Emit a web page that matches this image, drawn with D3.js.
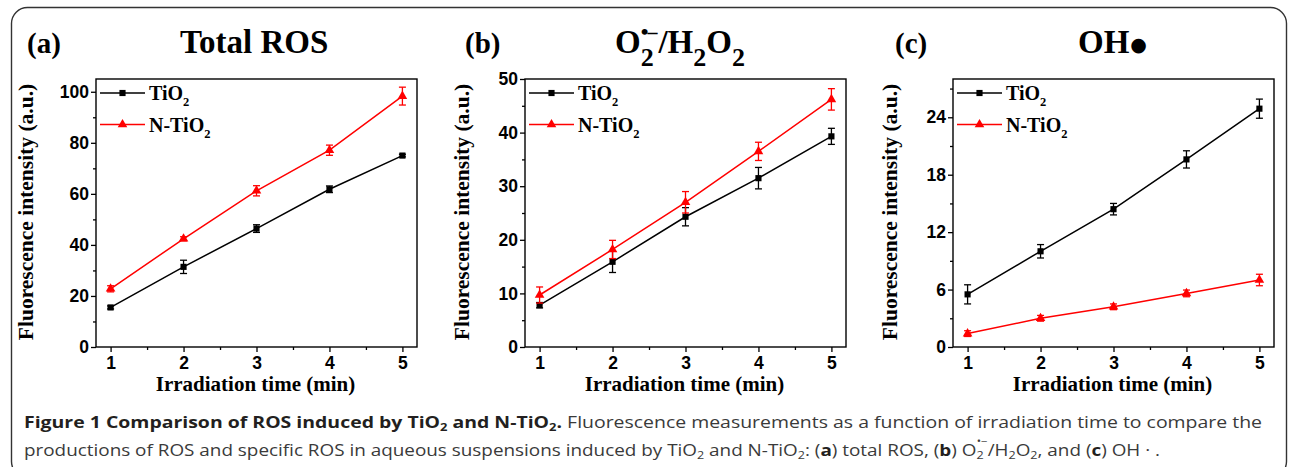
<!DOCTYPE html>
<html>
<head>
<meta charset="utf-8">
<script src="https://cdn.jsdelivr.net/npm/d3@7"></script>
<style>
  body { margin: 0; background: #fff; }
  svg { display: block; }
</style>
</head>
<body>
<svg id="chart" width="1290" height="467"></svg>
<script>
// irradiation time (min)
const times = [1, 2, 3, 4, 5];
const xTicks = [1, 2, 3, 4, 5];
const xMinorTicks = [1.5, 2.5, 3.5, 4.5];

// (a) total ROS
const rosTiO2 = [15.5, 31.4, 46.4, 61.8, 75.0];
const rosTiO2Err = [0.6, 2.6, 1.5, 1.3, 0.5];
const rosNTiO2 = [22.8, 42.4, 61.2, 77.1, 98.3];
const rosNTiO2Err = [1.2, 0.8, 2.0, 2.0, 3.5];
const rosTicks = [0, 20, 40, 60, 80, 100];
const rosMinorTicks = [10, 30, 50, 70, 90];

// (b) superoxide / H2O2
const o2TiO2 = [7.8, 15.9, 24.3, 31.5, 39.3];
const o2TiO2Err = [0.5, 2.0, 1.7, 2.0, 1.5];
const o2NTiO2 = [9.7, 18.2, 27.0, 36.5, 46.2];
const o2NTiO2Err = [1.5, 1.7, 2.0, 1.7, 2.0];
const o2Ticks = [0, 10, 20, 30, 40, 50];
const o2MinorTicks = [5, 15, 25, 35, 45];

// (c) hydroxyl radical
const ohTiO2 = [5.5, 10.0, 14.4, 19.6, 24.9];
const ohTiO2Err = [1.0, 0.7, 0.6, 0.9, 1.0];
const ohNTiO2 = [1.4, 3.0, 4.2, 5.6, 7.0];
const ohNTiO2Err = [0.3, 0.3, 0.3, 0.35, 0.6];
const ohTicks = [0, 6, 12, 18, 24];
const ohMinorTicks = [3, 9, 15, 21, 27];

const seriesNames = ["TiO", "N-TiO"];
const seriesColors = ["#000000", "#ff0000"];

const serif = "'Liberation Serif', 'Times New Roman', serif";
const sans = "'Liberation Sans', Arial, sans-serif";

const svg = d3.select("#chart");

// outer rounded frame
svg.append("rect")
    .attr("x", 11.5).attr("y", 7.5)
    .attr("width", 1275).attr("height", 470)
    .attr("rx", 16)
    .attr("fill", "none")
    .attr("stroke", "#333")
    .attr("stroke-width", 1.4);

function toRows(values, errors) {
    return times.map((t, i) => ({ t: t, v: values[i], e: errors[i] }));
}

function drawPanel(p) {
    const left = p.left, right = p.left + 321, top = 79, bottom = 347;
    const g = svg.append("g");

    const x = d3.scaleLinear().domain([0.8, 5.2]).range([left, right]);
    const y = d3.scaleLinear().domain([0, p.yMax]).range([bottom, top]);

    // axes (ticks outward, Origin style)
    g.append("g")
        .attr("transform", `translate(${left},0)`)
        .call(d3.axisLeft(y).tickValues(p.ticks).tickSize(5).tickSizeOuter(0).tickPadding(2));
    g.append("g")
        .attr("transform", `translate(${left},0)`)
        .call(d3.axisLeft(y).tickValues(p.minor).tickSize(3).tickSizeOuter(0).tickFormat(""));
    g.append("g")
        .attr("transform", `translate(0,${bottom})`)
        .call(d3.axisBottom(x).tickValues(xTicks).tickFormat(d3.format("d"))
            .tickSize(5).tickSizeOuter(0).tickPadding(5));
    g.append("g")
        .attr("transform", `translate(0,${bottom})`)
        .call(d3.axisBottom(x).tickValues(xMinorTicks).tickSize(3).tickSizeOuter(0).tickFormat(""));

    g.selectAll(".domain").remove();
    g.selectAll(".tick line").attr("stroke", "#000").attr("stroke-width", 1.3);
    g.selectAll(".tick text")
        .attr("fill", "#000")
        .style("font-family", sans)
        .style("font-weight", "bold")
        .style("font-size", "17.5px");

    // plot frame
    g.append("rect")
        .attr("x", left).attr("y", top)
        .attr("width", right - left).attr("height", bottom - top)
        .attr("fill", "none")
        .attr("stroke", "#000")
        .attr("stroke-width", 1.4);

    // series
    const line = d3.line().x(d => x(d.t)).y(d => y(d.v));
    p.series.forEach((s, k) => {
        const color = seriesColors[k];
        const sg = g.append("g");
        sg.append("path")
            .datum(s)
            .attr("fill", "none")
            .attr("stroke", color)
            .attr("stroke-width", 1.5)
            .attr("d", line);

        const eb = sg.selectAll(".err").data(s).enter().append("g");
        eb.append("line")
            .attr("x1", d => x(d.t)).attr("x2", d => x(d.t))
            .attr("y1", d => y(d.v - d.e)).attr("y2", d => y(d.v + d.e))
            .attr("stroke", color).attr("stroke-width", 1.3);
        [-1, 1].forEach(sign => {
            eb.append("line")
                .attr("x1", d => x(d.t) - 3.5).attr("x2", d => x(d.t) + 3.5)
                .attr("y1", d => y(d.v + sign * d.e)).attr("y2", d => y(d.v + sign * d.e))
                .attr("stroke", color).attr("stroke-width", 1.3);
        });

        const sym = k === 0 ? d3.symbol(d3.symbolSquare, 38) : d3.symbol(d3.symbolTriangle, 40);
        sg.selectAll(".mk").data(s).enter().append("path")
            .attr("transform", d => `translate(${x(d.t)},${y(d.v)})`)
            .attr("d", sym)
            .attr("fill", color);
    });

    // legend
    seriesNames.forEach((name, k) => {
        const ly = top + 14 + k * 31.5;
        const color = seriesColors[k];
        g.append("line")
            .attr("x1", left + 4).attr("x2", left + 49)
            .attr("y1", ly).attr("y2", ly)
            .attr("stroke", color).attr("stroke-width", 1.5);
        const sym = k === 0 ? d3.symbol(d3.symbolSquare, 38) : d3.symbol(d3.symbolTriangle, 40);
        g.append("path")
            .attr("transform", `translate(${left + 26.5},${ly})`)
            .attr("d", sym)
            .attr("fill", color);
        const t = g.append("text")
            .attr("x", left + 53).attr("y", ly + 7)
            .style("font-family", serif)
            .style("font-weight", "bold")
            .style("font-size", "20px");
        t.append("tspan").text(name);
        t.append("tspan").attr("dy", 6).style("font-size", "12.5px").text("2");
    });

    // axis titles
    g.append("text")
        .attr("transform", `translate(${left - p.titleOffset},${(top + bottom) / 2 - 1}) rotate(-90)`)
        .attr("text-anchor", "middle")
        .style("font-family", serif)
        .style("font-weight", "bold")
        .style("font-size", "21.5px")
        .text("Fluorescence intensity (a.u.)");
    g.append("text")
        .attr("x", (left + right) / 2 - 1).attr("y", 390.5)
        .attr("text-anchor", "middle")
        .style("font-family", serif)
        .style("font-weight", "bold")
        .style("font-size", "21px")
        .text("Irradiation time (min)");

    // panel letter
    g.append("text")
        .attr("x", p.labelX).attr("y", 53)
        .style("font-family", serif)
        .style("font-weight", "bold")
        .style("font-size", "29px")
        .text(p.label);

    // panel title
    const title = g.append("text")
        .attr("x", p.titleX).attr("y", 53)
        .style("font-family", serif)
        .style("font-weight", "bold")
        .style("font-size", "33px");
    p.title(title);
}

drawPanel({
    left: 96, yMax: 105, ticks: rosTicks, minor: rosMinorTicks, titleOffset: 63,
    series: [toRows(rosTiO2, rosTiO2Err), toRows(rosNTiO2, rosNTiO2Err)],
    label: "(a)", labelX: 27, titleX: 180,
    title: t => t.text("Total ROS")
});

drawPanel({
    left: 525, yMax: 50, ticks: o2Ticks, minor: o2MinorTicks, titleOffset: 56,
    series: [toRows(o2TiO2, o2TiO2Err), toRows(o2NTiO2, o2NTiO2Err)],
    label: "(b)", labelX: 465, titleX: 615,
    title: t => {
        t.append("tspan").text("O");
        t.append("tspan").attr("dy", 13).style("font-size", "26px").text("2");
        t.append("tspan").attr("dx", -13).attr("dy", -27).style("font-size", "22px").text("•");
        t.append("tspan").attr("dx", -1).attr("dy", 0).style("font-size", "20px").text("–");
        t.append("tspan").attr("dx", 1).attr("dy", 14).text("/H");
        t.append("tspan").attr("dy", 13).style("font-size", "26px").text("2");
        t.append("tspan").attr("dy", -13).text("O");
        t.append("tspan").attr("dy", 13).style("font-size", "26px").text("2");
    }
});

drawPanel({
    left: 953, yMax: 28, ticks: ohTicks, minor: ohMinorTicks, titleOffset: 56,
    series: [toRows(ohTiO2, ohTiO2Err), toRows(ohNTiO2, ohNTiO2Err)],
    label: "(c)", labelX: 895, titleX: 1078,
    title: t => {
        t.append("tspan").text("OH");
        t.append("tspan").attr("dx", 1).attr("dy", -2).style("font-size", "19px").style("font-family", "DejaVu Sans").text("●");
    }
});

// caption
const capFont = "'Open Sans', 'Noto Sans', sans-serif";
const cap1 = svg.append("text")
    .attr("x", 24).attr("y", 428)
    .attr("textLength", 1238).attr("lengthAdjust", "spacingAndGlyphs")
    .style("font-family", capFont)
    .style("font-size", "16.5px");
const b1 = cap1.append("tspan").attr("fill", "#231f20").style("font-weight", "bold");
b1.append("tspan").text("Figure 1 Comparison of ROS induced by TiO");
b1.append("tspan").attr("dy", 3).style("font-size", "11px").text("2");
b1.append("tspan").attr("dy", -3).text(" and N-TiO");
b1.append("tspan").attr("dy", 3).style("font-size", "11px").text("2");
b1.append("tspan").attr("dy", -3).text(".");
cap1.append("tspan").attr("fill", "#3a3a3a")
    .text(" Fluorescence measurements as a function of irradiation time to compare the");

const cap2 = svg.append("text")
    .attr("x", 24).attr("y", 456)
    .attr("textLength", 1136).attr("lengthAdjust", "spacingAndGlyphs")
    .attr("fill", "#3a3a3a")
    .style("font-family", capFont)
    .style("font-size", "16.5px");
cap2.append("tspan").text("productions of ROS and specific ROS in aqueous suspensions induced by TiO");
cap2.append("tspan").attr("dy", 3).style("font-size", "11px").text("2");
cap2.append("tspan").attr("dy", -3).text(" and N-TiO");
cap2.append("tspan").attr("dy", 3).style("font-size", "11px").text("2");
cap2.append("tspan").attr("dy", -3).text(": (");
cap2.append("tspan").style("font-weight", "bold").attr("fill", "#231f20").text("a");
cap2.append("tspan").text(") total ROS, (");
cap2.append("tspan").style("font-weight", "bold").attr("fill", "#231f20").text("b");
cap2.append("tspan").text(") O");
cap2.append("tspan").attr("dy", 3).style("font-size", "11px").text("2");
cap2.append("tspan").attr("dx", -6).attr("dy", -14).style("font-size", "10px").text("•−");
cap2.append("tspan").attr("dy", 11).text("/H");
cap2.append("tspan").attr("dy", 3).style("font-size", "11px").text("2");
cap2.append("tspan").attr("dy", -3).text("O");
cap2.append("tspan").attr("dy", 3).style("font-size", "11px").text("2");
cap2.append("tspan").attr("dy", -3).text(", and (");
cap2.append("tspan").style("font-weight", "bold").attr("fill", "#231f20").text("c");
cap2.append("tspan").text(") OH · .");
</script>
</body>
</html>
